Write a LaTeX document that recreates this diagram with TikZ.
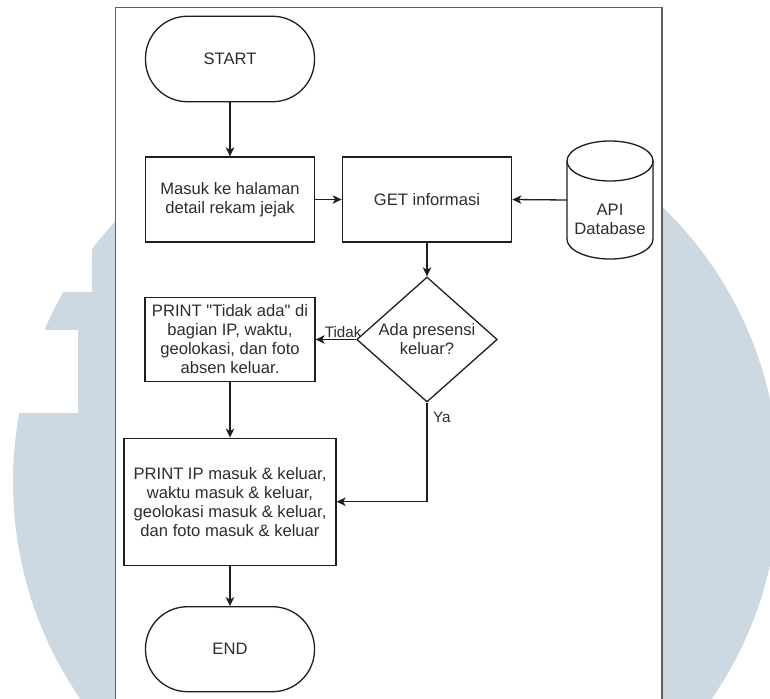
\documentclass[tikz,border=0pt]{standalone}
\usepackage{fontspec}
\setmainfont{Liberation Sans}
\usetikzlibrary{shapes.geometric,arrows.meta}
\definecolor{wmblue}{RGB}{204,217,227}
\definecolor{ink}{RGB}{30,30,30}
\definecolor{txt}{RGB}{45,45,45}
\definecolor{framegray}{RGB}{95,95,95}

\begin{document}
\begin{tikzpicture}[x=1pt,y=1pt,
  box/.style={draw=ink, line width=1.3pt, fill=white, rectangle, inner sep=0pt,
    align=center, text=txt, font=\fontsize{16.6}{19}\selectfont},
  term/.style={box, rounded corners=42pt},
  decision/.style={box, diamond, aspect=1.125},
  arr/.style={draw=ink, line width=1.3pt, -{Stealth[length=9pt,width=8.5pt,inset=2.5pt]}},
  elabel/.style={text=txt, font=\fontsize{15.2}{18}\selectfont, inner sep=0pt}
]
\useasboundingbox (0,0) rectangle (770,-698);
\clip (0,0) rectangle (770,-698);

% background emblem
\fill[wmblue] (396,-482) circle[radius=383];
\fill[white] (0,0) rectangle (92,-292);
\fill[white] (0,-330) rectangle (78,-413);

% page frame
\draw[framegray, line width=1.5pt, fill=white] (115.5,-7.5) rectangle (662,-720);

% flow nodes
\node[term, minimum width=169pt, minimum height=85.5pt] (start) at (230,-59) {START};
\node[box, minimum width=169pt, minimum height=85pt] (masuk) at (230,-199.5)
  {Masuk ke halaman\\detail rekam jejak};
\node[box, minimum width=169.5pt, minimum height=85pt] (get) at (427,-199.5) {GET informasi};

% database cylinder
\node[draw=none, minimum width=86pt, minimum height=118pt, inner sep=0pt] (db) at (610,-200) {};
\draw[ink, line width=1.3pt, fill=white]
  (567,-161) -- (567,-239)
  arc[start angle=180, end angle=360, x radius=43, y radius=20]
  -- (653,-161)
  arc[start angle=0, end angle=180, x radius=43, y radius=20] -- cycle;
\draw[ink, line width=1.3pt] (567,-161)
  arc[start angle=180, end angle=360, x radius=43, y radius=20];
\node[box, draw=none, fill=none] (dbtext) at (610,-219) {API\\Database};

\node[decision, minimum width=140.6pt, minimum height=125pt] (dec) at (427,-339.5)
  {Ada presensi\\keluar?};
\node[box, minimum width=170pt, minimum height=84.5pt] (tidak) at (230,-339.5)
  {PRINT \textquotedbl Tidak ada\textquotedbl\ di\\bagian IP, waktu,\\geolokasi, dan foto\\absen keluar.};
\node[box, minimum width=212pt, minimum height=127pt] (printip) at (230,-501.7)
  {PRINT IP masuk \& keluar,\\waktu masuk \& keluar,\\geolokasi masuk \& keluar,\\dan foto masuk \& keluar};
\node[term, minimum width=169pt, minimum height=85pt] (stop) at (230,-649.2) {END};

% connectors
\draw[arr] (start) -- (masuk);
\draw[arr] (masuk) -- (get);
\draw[arr] (db.west) -- (get.east);
\draw[arr] (get) -- (dec);
\draw[arr] (dec.west) -- (tidak.east)
  node[elabel, pos=0.32, anchor=south, yshift=1.5pt] {Tidak};
\draw[arr] (dec.south) |- (printip.east)
  node[elabel, pos=0.074, anchor=west, xshift=5.5pt] {Ya};
\draw[arr] (tidak) -- (printip);
\draw[arr] (printip) -- (stop);
\end{tikzpicture}
\end{document}
